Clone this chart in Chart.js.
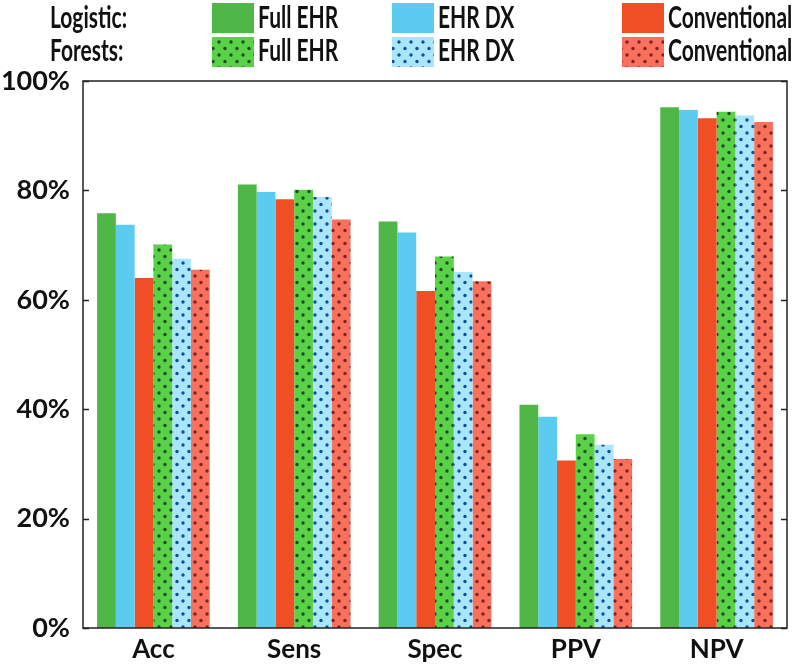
<!DOCTYPE html>
<html>
<head>
<meta charset="utf-8">
<script src="https://cdn.jsdelivr.net/npm/chart.js@4"></script>
<style>
  html, body { margin: 0; padding: 0; background: #fff; }
  #wrap { width: 800px; height: 668px; position: relative; }
</style>
</head>
<body>
<div id="wrap"><canvas id="chart" width="800" height="668"></canvas></div>
<script>
// Data (percent)
const categories = ['Acc', 'Sens', 'Spec', 'PPV', 'NPV'];
const logisticFull = [75.8, 81.1, 74.3, 40.8, 95.2];
const logisticDx   = [73.7, 79.7, 72.3, 38.6, 94.7];
const logisticConv = [64.0, 78.4, 61.6, 30.6, 93.2];
const forestFull   = [70.1, 80.1, 67.9, 35.4, 94.4];
const forestDx     = [67.5, 78.8, 65.1, 33.5, 93.7];
const forestConv   = [65.5, 74.7, 63.4, 30.9, 92.5];
const yTicks = [0, 20, 40, 60, 80, 100];
const seriesNames = ['Full EHR', 'EHR DX', 'Conventional'];
const groupNames = ['Logistic:', 'Forests:'];

const FONT = "Lato, 'Open Sans', sans-serif";

// dotted fill used for the random forest bars
function dotPattern(base, dot) {
    const c = document.createElement('canvas');
    c.width = 12;
    c.height = 13;
    const g = c.getContext('2d');
    g.fillStyle = base;
    g.fillRect(0, 0, 12, 13);
    g.fillStyle = dot;
    [[3, 3], [9, 9.5]].forEach(p => {
        g.beginPath();
        g.arc(p[0], p[1], 1.7, 0, Math.PI * 2);
        g.fill();
    });
    return g.createPattern(c, 'repeat');
}

const solidColors = ['#4fb648', '#5ccbf0', '#f04f25'];
const dottedFills = [
    dotPattern('#5ad248', '#1f4a22'),
    dotPattern('#aae6fb', '#0b4f96'),
    dotPattern('#f9705c', '#7a2420')
];

function makeSet(label, data, fill) {
    return {
        label: label,
        data: data,
        backgroundColor: fill,
        borderWidth: 0,
        categoryPercentage: 0.8,
        barPercentage: 1.0
    };
}

const datasets = [
    makeSet('Logistic Full EHR', logisticFull, solidColors[0]),
    makeSet('Logistic EHR DX', logisticDx, solidColors[1]),
    makeSet('Logistic Conventional', logisticConv, solidColors[2]),
    makeSet('Forests Full EHR', forestFull, dottedFills[0]),
    makeSet('Forests EHR DX', forestDx, dottedFills[1]),
    makeSet('Forests Conventional', forestConv, dottedFills[2])
];

// box frame + inward ticks, like the original figure
const framePlugin = {
    id: 'frame',
    afterDraw(chart) {
        const ctx = chart.ctx;
        const a = chart.chartArea;
        const y = chart.scales.y;
        ctx.save();
        ctx.strokeStyle = '#222';
        ctx.lineWidth = 1.5;
        ctx.strokeRect(a.left, a.top, a.right - a.left, a.bottom - a.top);
        yTicks.forEach(v => {
            const py = Math.round(y.getPixelForValue(v)) + 0.5;
            ctx.beginPath();
            ctx.moveTo(a.left, py);
            ctx.lineTo(a.left + 6, py);
            ctx.moveTo(a.right, py);
            ctx.lineTo(a.right - 6, py);
            ctx.stroke();
        });
        ctx.restore();
    }
};

// condensed text, the legend font in the figure is narrow
function narrowText(ctx, text, x, y, sx) {
    ctx.save();
    ctx.translate(x, y);
    ctx.scale(sx, 1);
    ctx.fillText(text, 0, 0);
    ctx.restore();
}

// two-row legend at the top
const legendPlugin = {
    id: 'twoRowLegend',
    afterDraw(chart) {
        const ctx = chart.ctx;
        const rows = [{ top: 3, base: 28 }, { top: 37, base: 61 }];
        const swatchX = [212, 392, 622];
        const sx = 0.7;
        ctx.save();
        ctx.font = 'bold 30px ' + FONT;
        ctx.textBaseline = 'alphabetic';
        ctx.textAlign = 'left';
        rows.forEach((row, r) => {
            ctx.fillStyle = '#111';
            narrowText(ctx, groupNames[r], 50, row.base, sx);
            for (let i = 0; i < 3; i++) {
                const ds = chart.data.datasets[r * 3 + i];
                ctx.fillStyle = ds.backgroundColor;
                ctx.fillRect(swatchX[i], row.top, 42, 30);
                ctx.fillStyle = '#111';
                narrowText(ctx, seriesNames[i], swatchX[i] + 46, row.base, sx);
            }
        });
        ctx.restore();
    }
};

new Chart(document.getElementById('chart'), {
    type: 'bar',
    data: {
        labels: categories,
        datasets: datasets
    },
    options: {
        responsive: false,
        animation: false,
        layout: {
            padding: { top: 81, right: 13, bottom: 0, left: 0 }
        },
        plugins: {
            legend: { display: false },
            tooltip: { enabled: false }
        },
        scales: {
            x: {
                grid: { display: false, drawTicks: false },
                border: { display: false },
                ticks: {
                    color: '#111',
                    padding: 6,
                    font: { family: FONT, size: 26, weight: 'bold' }
                },
                afterFit: function(scale) { scale.height = 40; }
            },
            y: {
                min: 0,
                max: 100,
                grid: { display: false, drawTicks: false },
                border: { display: false },
                afterBuildTicks: function(scale) {
                    scale.ticks = yTicks.map(v => ({ value: v }));
                },
                ticks: {
                    color: '#111',
                    padding: 13,
                    font: { family: FONT, size: 27, weight: 'bold' },
                    callback: function(value) { return value + '%'; }
                },
                afterFit: function(scale) { scale.width = 83; }
            }
        }
    },
    plugins: [framePlugin, legendPlugin]
});
</script>
</body>
</html>
